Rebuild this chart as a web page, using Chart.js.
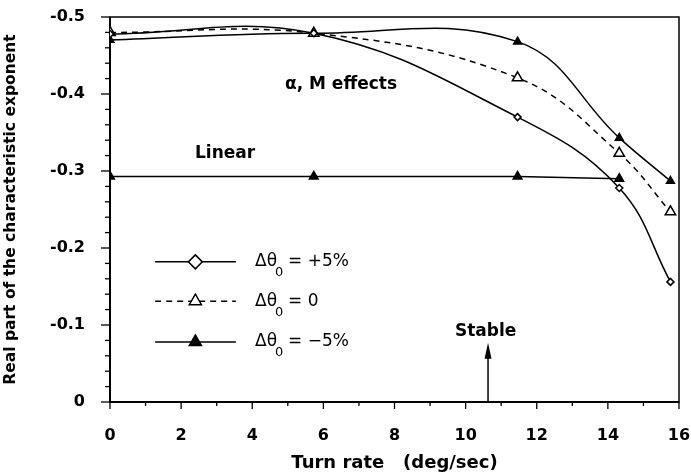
<!DOCTYPE html>
<html>
<head>
<meta charset="utf-8">
<script src="https://cdn.jsdelivr.net/npm/chart.js@4.4.1/dist/chart.umd.min.js"></script>
<style>
  html, body { margin: 0; padding: 0; background: #fff; }
  #wrap { width: 691px; height: 476px; }
</style>
</head>
<body>
<div id="wrap"><canvas id="chart"></canvas></div>
<script>
// Turn rate (deg/sec) at which the exponent was computed
const turnRates = [0, 5.73, 11.46, 14.32, 15.76];
const linearRates = [0, 5.73, 11.46, 14.32];

// Real part of the characteristic exponent
const plus5 = [-0.478, -0.479, -0.370, -0.278, -0.156];
const zero = [-0.480, -0.479, -0.421, -0.323, -0.247];
const minus5 = [-0.470, -0.479, -0.468, -0.343, -0.287];
const linear = [-0.293, -0.293, -0.293, -0.290];

// Axis tick labels
const xTicks = [0, 2, 4, 6, 8, 10, 12, 14, 16];
const yTicks = [-0.5, -0.4, -0.3, -0.2, -0.1, 0];

const legendLabels = ['+5%', '0', '\u22125%'];

const WIDE = '"DejaVu Sans", sans-serif';
const toXY = (xs, ys) => xs.map((x, i) => ({ x: x, y: ys[i] }));

// frame and the hand-drawn minor/major tick marks
const framePlugin = {
  id: 'frame',
  beforeDatasetsDraw(chart) {
    const { ctx, chartArea: a, scales: { x, y } } = chart;
    ctx.save();
    ctx.strokeStyle = '#000';
    ctx.lineWidth = 1.5;
    ctx.strokeRect(a.left, a.top, a.right - a.left, a.bottom - a.top);
    ctx.lineWidth = 2;
    ctx.beginPath();
    ctx.moveTo(a.left, a.top); ctx.lineTo(a.left, a.bottom); ctx.lineTo(a.right, a.bottom);
    ctx.stroke();
    ctx.lineWidth = 1.3;
    for (let v = 0; v <= 16; v++) {
      const px = x.getPixelForValue(v);
      const len = v % 2 === 0 ? 7 : 4;
      ctx.beginPath(); ctx.moveTo(px, a.bottom); ctx.lineTo(px, a.bottom + len); ctx.stroke();
    }
    for (let k = 0; k <= 25; k++) {
      const py = y.getPixelForValue(-k * 0.02);
      const len = k % 5 === 0 ? 9 : 5;
      ctx.beginPath(); ctx.moveTo(a.left, py); ctx.lineTo(a.left - len, py); ctx.stroke();
    }
    ctx.restore();
  }
};

// in-plot text, arrow and legend
const notesPlugin = {
  id: 'notes',
  afterDatasetsDraw(chart) {
    const { ctx, scales: { x, y } } = chart;
    ctx.save();
    ctx.fillStyle = '#000';
    ctx.strokeStyle = '#000';
    ctx.textBaseline = 'middle';
    ctx.textAlign = 'left';
    ctx.font = 'bold 17px ' + WIDE;
    ctx.fillText('\u03b1, M effects', x.getPixelForValue(4.92), y.getPixelForValue(-0.412));
    ctx.fillText('Linear', x.getPixelForValue(2.39), y.getPixelForValue(-0.323));
    ctx.fillText('Stable', x.getPixelForValue(9.70), y.getPixelForValue(-0.092));

    // arrow up to "Stable"
    const ax = x.getPixelForValue(10.63);
    const aTop = y.getPixelForValue(-0.077);
    ctx.lineWidth = 1.5;
    ctx.beginPath(); ctx.moveTo(ax, y.getPixelForValue(0)); ctx.lineTo(ax, aTop + 8); ctx.stroke();
    ctx.beginPath();
    ctx.moveTo(ax, aTop); ctx.lineTo(ax - 3.5, aTop + 16); ctx.lineTo(ax + 3.5, aTop + 16);
    ctx.closePath(); ctx.fill();

    // legend
    const rows = [-0.182, -0.131, -0.078];
    const x0 = x.getPixelForValue(1.27), x1 = x.getPixelForValue(3.54);
    const mx = x.getPixelForValue(2.4), tx = x.getPixelForValue(4.08);
    for (let i = 0; i < 3; i++) {
      const ds = chart.data.datasets[i];
      const py = y.getPixelForValue(rows[i]);
      ctx.lineWidth = 1.5;
      ctx.strokeStyle = '#000';
      ctx.setLineDash(ds.borderDash || []);
      ctx.beginPath(); ctx.moveTo(x0, py); ctx.lineTo(x1, py); ctx.stroke();
      ctx.setLineDash([]);
      ctx.fillStyle = ds.pointBackgroundColor;
      Chart.helpers.drawPoint(ctx, {
        pointStyle: ds.pointStyle, radius: 7, borderWidth: 1.5, rotation: 0
      }, mx, py);
      ctx.fillStyle = '#000';
      ctx.font = '17px ' + WIDE;
      ctx.fillText('\u0394\u03b8', tx, py);
      ctx.font = '13px ' + WIDE;
      ctx.fillText('0', tx + 20, py + 11);
      ctx.font = '17px ' + WIDE;
      ctx.fillText('= ' + legendLabels[i], tx + 33, py);
    }
    ctx.restore();
  }
};

const lineBase = {
  borderColor: '#000',
  borderWidth: 1.5,
  pointBorderColor: '#000',
  pointBorderWidth: 1.5,
  fill: false,
  tension: 0.4
};

new Chart(document.getElementById('chart'), {
  type: 'line',
  data: {
    datasets: [
      Object.assign({}, lineBase, {
        label: '+5%', data: toXY(turnRates, plus5),
        pointStyle: 'rectRot', pointRadius: 3.5, pointBackgroundColor: '#fff'
      }),
      Object.assign({}, lineBase, {
        label: '0', data: toXY(turnRates, zero), borderDash: [6, 5],
        pointStyle: 'triangle', pointRadius: 6, pointBackgroundColor: '#fff'
      }),
      Object.assign({}, lineBase, {
        label: '-5%', data: toXY(turnRates, minus5),
        pointStyle: 'triangle', pointRadius: 4.5, pointBackgroundColor: '#000'
      }),
      Object.assign({}, lineBase, {
        label: 'Linear', data: toXY(linearRates, linear), tension: 0,
        pointStyle: 'triangle', pointRadius: 5, pointBackgroundColor: '#000'
      })
    ]
  },
  options: {
    responsive: true,
    maintainAspectRatio: false,
    animation: false,
    layout: { padding: { top: 17, right: 12, left: 0, bottom: 0 } },
    plugins: { legend: { display: false }, tooltip: { enabled: false } },
    scales: {
      x: {
        type: 'linear', min: 0, max: 16,
        afterFit: s => { s.height = 74; s.paddingLeft = 0; s.paddingRight = 0; },
        afterBuildTicks: s => { s.ticks = xTicks.map(v => ({ value: v })); },
        grid: { display: false, drawTicks: false },
        border: { display: false },
        ticks: { color: '#000', padding: 24, maxRotation: 0, autoSkip: false,
                 font: { family: WIDE, size: 16, weight: 'bold' } },
        title: { display: true, text: 'Turn rate   (deg/sec)', color: '#000',
                 font: { family: WIDE, size: 18, weight: 'bold' }, padding: { top: 0, bottom: 2 } }
      },
      y: {
        type: 'linear', min: -0.5, max: 0, reverse: true,
        afterFit: s => { s.width = 110; s.paddingTop = 0; s.paddingBottom = 0; },
        afterBuildTicks: s => { s.ticks = yTicks.map(v => ({ value: v })); },
        grid: { display: false, drawTicks: false },
        border: { display: false },
        ticks: { color: '#000', padding: 25, autoSkip: false,
                 font: { family: WIDE, size: 16, weight: 'bold' },
                 callback: v => v === 0 ? '0' : v.toFixed(1) },
        title: { display: true, text: 'Real part of the characteristic exponent', color: '#000',
                 font: { family: WIDE, size: 15.5, weight: 'bold' }, padding: { top: 2, bottom: 0 } }
      }
    }
  },
  plugins: [framePlugin, notesPlugin]
});
</script>
</body>
</html>
